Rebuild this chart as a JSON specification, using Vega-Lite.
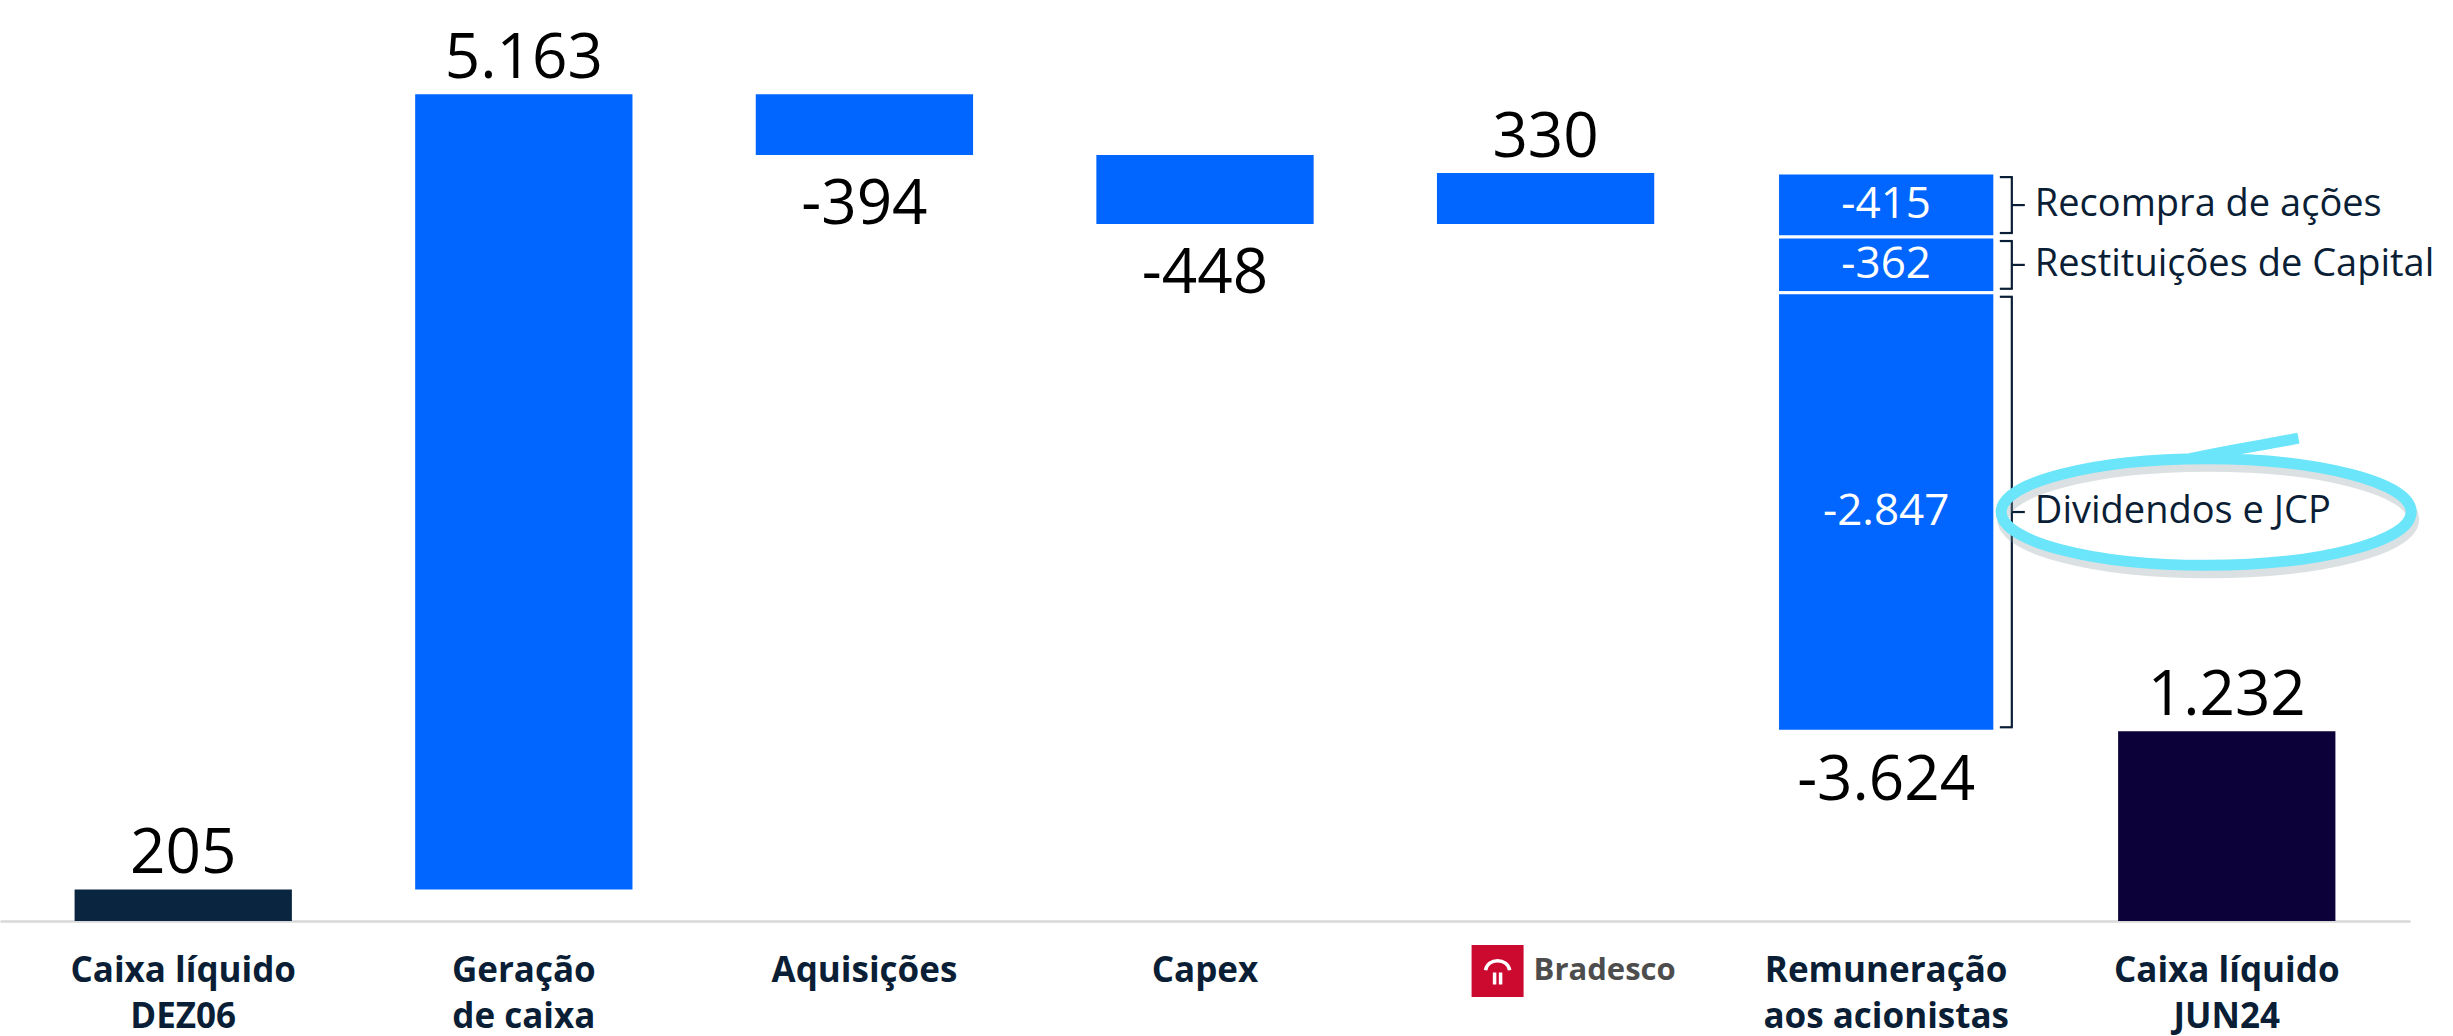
{
  "$schema": "https://vega.github.io/schema/vega-lite/v6.json",
  "width": 2410,
  "height": 921,
  "autosize": {"type": "none"},
  "padding": {"left": 0, "top": 0, "right": 43, "bottom": 115},
  "background": "white",
  "config": {"font": "Open Sans", "view": {"stroke": null}},
  "datasets": {
    "fluxo": [
      {"cat": "Caixa líquido|DEZ06", "start": 0, "end": 205, "label": "205", "tipo": "inicio"},
      {"cat": "Geração|de caixa", "start": 205, "end": 5368, "label": "5.163", "tipo": "variacao"},
      {"cat": "Aquisições", "start": 5368, "end": 4974, "label": "-394", "tipo": "variacao"},
      {"cat": "Capex", "start": 4974, "end": 4526, "label": "-448", "tipo": "variacao"},
      {"cat": "Bradesco", "start": 4526, "end": 4856, "label": "330", "tipo": "variacao"},
      {"cat": "Remuneração|aos acionistas", "start": 4856, "end": 1232, "label": "-3.624", "tipo": "variacao"},
      {"cat": "Caixa líquido|JUN24", "start": 0, "end": 1232, "label": "1.232", "tipo": "fim"}
    ],
    "remuneracao": [
      {"cat": "Remuneração|aos acionistas", "seg": "Recompra de ações", "start": 4856, "end": 4441, "label": "-415"},
      {"cat": "Remuneração|aos acionistas", "seg": "Restituições de Capital", "start": 4441, "end": 4079, "label": "-362"},
      {"cat": "Remuneração|aos acionistas", "seg": "Dividendos e JCP", "start": 4079, "end": 1232, "label": "-2.847"}
    ],
    "logo": [{"cat": "Bradesco", "nome": "Bradesco"}]
  },
  "encoding": {
    "x": {
      "field": "cat",
      "type": "nominal",
      "sort": null,
      "scale": {
        "domain": ["Caixa líquido|DEZ06", "Geração|de caixa", "Aquisições", "Capex", "Bradesco", "Remuneração|aos acionistas", "Caixa líquido|JUN24"],
        "paddingInner": 0.362,
        "paddingOuter": 0.219
      },
      "axis": {
        "title": null,
        "labelExpr": "datum.value == 'Bradesco' ? '' : split(datum.value, '|')",
        "labelAngle": 0,
        "labelFont": "Open Sans",
        "labelFontSize": 35,
        "labelFontWeight": "bold",
        "labelColor": "#0A1E36",
        "labelLineHeight": 46,
        "labelPadding": 32,
        "labelLimit": 0,
        "ticks": false,
        "domainColor": "#D9D9D9",
        "domainWidth": 2.5
      }
    }
  },
  "layer": [
    {
      "data": {"name": "fluxo"},
      "mark": {"type": "bar"},
      "encoding": {
        "y": {"field": "start", "type": "quantitative", "scale": {"domain": [0, 5980], "nice": false, "zero": true}, "axis": null},
        "y2": {"field": "end"},
        "color": {"field": "tipo", "type": "nominal", "scale": {"domain": ["inicio", "variacao", "fim"], "range": ["#0A2540", "#0066FF", "#0D0139"]}, "legend": null}
      }
    },
    {
      "data": {"name": "remuneracao"},
      "mark": {"type": "bar", "fill": "#0066FF", "stroke": "#FFFFFF", "strokeWidth": 3},
      "encoding": {
        "y": {"field": "start", "type": "quantitative", "axis": null},
        "y2": {"field": "end"}
      }
    },
    {
      "data": {"name": "fluxo"},
      "transform": [{"filter": "datum.end > datum.start"}],
      "mark": {"type": "text", "fontSize": 62, "baseline": "alphabetic", "dy": -16, "color": "#000000"},
      "encoding": {
        "y": {"field": "end", "type": "quantitative", "axis": null},
        "text": {"field": "label"}
      }
    },
    {
      "data": {"name": "fluxo"},
      "transform": [{"filter": "datum.end < datum.start"}],
      "mark": {"type": "text", "fontSize": 62, "baseline": "top", "dy": 20, "color": "#000000"},
      "encoding": {
        "y": {"field": "end", "type": "quantitative", "axis": null},
        "text": {"field": "label"}
      }
    },
    {
      "data": {"name": "remuneracao"},
      "transform": [
        {"fold": ["start", "end"], "as": ["k", "v"]},
        {"aggregate": [{"op": "mean", "field": "v", "as": "mid"}], "groupby": ["cat", "seg", "label"]}
      ],
      "mark": {"type": "text", "fontSize": 44, "baseline": "middle", "color": "#FFFFFF"},
      "encoding": {
        "y": {"field": "mid", "type": "quantitative", "axis": null},
        "text": {"field": "label"}
      }
    },
    {
      "data": {"name": "remuneracao"},
      "mark": {"type": "rule", "color": "#0A1E36", "strokeWidth": 2.2, "xOffset": 17, "yOffset": 4, "y2Offset": -4},
      "encoding": {
        "x": {"field": "cat", "type": "nominal", "bandPosition": 1},
        "y": {"field": "start", "type": "quantitative", "axis": null},
        "y2": {"field": "end"}
      }
    },
    {
      "data": {"name": "remuneracao"},
      "mark": {"type": "rule", "color": "#0A1E36", "strokeWidth": 2.2, "xOffset": 5, "x2Offset": 18, "yOffset": 4},
      "encoding": {
        "x": {"field": "cat", "type": "nominal", "bandPosition": 1},
        "x2": {"field": "cat", "bandPosition": 1},
        "y": {"field": "start", "type": "quantitative", "axis": null}
      }
    },
    {
      "data": {"name": "remuneracao"},
      "mark": {"type": "rule", "color": "#0A1E36", "strokeWidth": 2.2, "xOffset": 5, "x2Offset": 18, "yOffset": -4},
      "encoding": {
        "x": {"field": "cat", "type": "nominal", "bandPosition": 1},
        "x2": {"field": "cat", "bandPosition": 1},
        "y": {"field": "end", "type": "quantitative", "axis": null}
      }
    },
    {
      "data": {"name": "remuneracao"},
      "transform": [
        {"fold": ["start", "end"], "as": ["k", "v"]},
        {"aggregate": [{"op": "mean", "field": "v", "as": "mid"}], "groupby": ["cat", "seg", "label"]}
      ],
      "mark": {"type": "rule", "color": "#0A1E36", "strokeWidth": 2.2, "xOffset": 17, "x2Offset": 30},
      "encoding": {
        "x": {"field": "cat", "type": "nominal", "bandPosition": 1},
        "x2": {"field": "cat", "bandPosition": 1},
        "y": {"field": "mid", "type": "quantitative", "axis": null}
      }
    },
    {
      "data": {"name": "remuneracao"},
      "transform": [
        {"fold": ["start", "end"], "as": ["k", "v"]},
        {"aggregate": [{"op": "mean", "field": "v", "as": "mid"}], "groupby": ["cat", "seg", "label"]}
      ],
      "mark": {"type": "text", "fontSize": 38, "align": "left", "baseline": "middle", "color": "#0A1E36", "xOffset": 40},
      "encoding": {
        "x": {"field": "cat", "type": "nominal", "bandPosition": 1},
        "y": {"field": "mid", "type": "quantitative", "axis": null},
        "text": {"field": "seg"}
      }
    },
    {
      "data": {"name": "remuneracao"},
      "transform": [
        {"filter": "datum.seg == 'Dividendos e JCP'"},
        {"fold": ["start", "end"], "as": ["k", "v"]},
        {"aggregate": [{"op": "mean", "field": "v", "as": "mid"}], "groupby": ["cat", "seg"]}
      ],
      "mark": {
        "type": "point",
        "shape": "M -1 0 C -1 -0.1436 -0.5523 -0.26 0 -0.26 C 0.5523 -0.26 1 -0.1436 1 0 C 1 0.1436 0.5523 0.26 0 0.26 C -0.5523 0.26 -1 0.1436 -1 0 Z",
        "size": 168100,
        "filled": false,
        "stroke": "#8A9AA0",
        "strokeWidth": 12,
        "opacity": 0.3,
        "xOffset": 322,
        "yOffset": 7
      },
      "encoding": {
        "y": {"field": "mid", "type": "quantitative", "axis": null}
      }
    },
    {
      "data": {"name": "remuneracao"},
      "transform": [
        {"filter": "datum.seg == 'Dividendos e JCP'"},
        {"fold": ["start", "end"], "as": ["k", "v"]},
        {"aggregate": [{"op": "mean", "field": "v", "as": "mid"}], "groupby": ["cat", "seg"]}
      ],
      "mark": {
        "type": "point",
        "shape": "M -1 0 C -1 -0.1436 -0.5523 -0.26 0 -0.26 C 0.5523 -0.26 1 -0.1436 1 0 C 1 0.1436 0.5523 0.26 0 0.26 C -0.5523 0.26 -1 0.1436 -1 0 Z M -0.08 -0.26 C 0.15 -0.31 0.3 -0.33 0.45 -0.36",
        "size": 168100,
        "filled": false,
        "stroke": "#6BE5FA",
        "strokeWidth": 11,
        "opacity": 1,
        "xOffset": 320
      },
      "encoding": {
        "y": {"field": "mid", "type": "quantitative", "axis": null}
      }
    },
    {
      "data": {"name": "logo"},
      "mark": {"type": "point", "shape": "square", "size": 2704, "filled": true, "fill": "#CC092F", "opacity": 1, "xOffset": -48, "yOffset": 50},
      "encoding": {
        "y": {"datum": 0, "type": "quantitative", "axis": null}
      }
    },
    {
      "data": {"name": "logo"},
      "mark": {"type": "point", "shape": "M -0.8 -0.05 C -0.7 -0.9 0.7 -0.9 0.8 -0.05 M -0.2 0.1 L -0.2 0.9 M 0.2 0.1 L 0.2 0.9", "size": 900, "filled": false, "stroke": "#FFFFFF", "strokeWidth": 3.5, "opacity": 1, "xOffset": -48, "yOffset": 50},
      "encoding": {
        "y": {"datum": 0, "type": "quantitative", "axis": null}
      }
    },
    {
      "data": {"name": "logo"},
      "mark": {"type": "text", "fontSize": 31, "fontWeight": "bold", "align": "left", "baseline": "middle", "color": "#4D4D4D", "xOffset": -12, "yOffset": 50},
      "encoding": {
        "y": {"datum": 0, "type": "quantitative", "axis": null},
        "text": {"field": "nome"}
      }
    }
  ]
}
